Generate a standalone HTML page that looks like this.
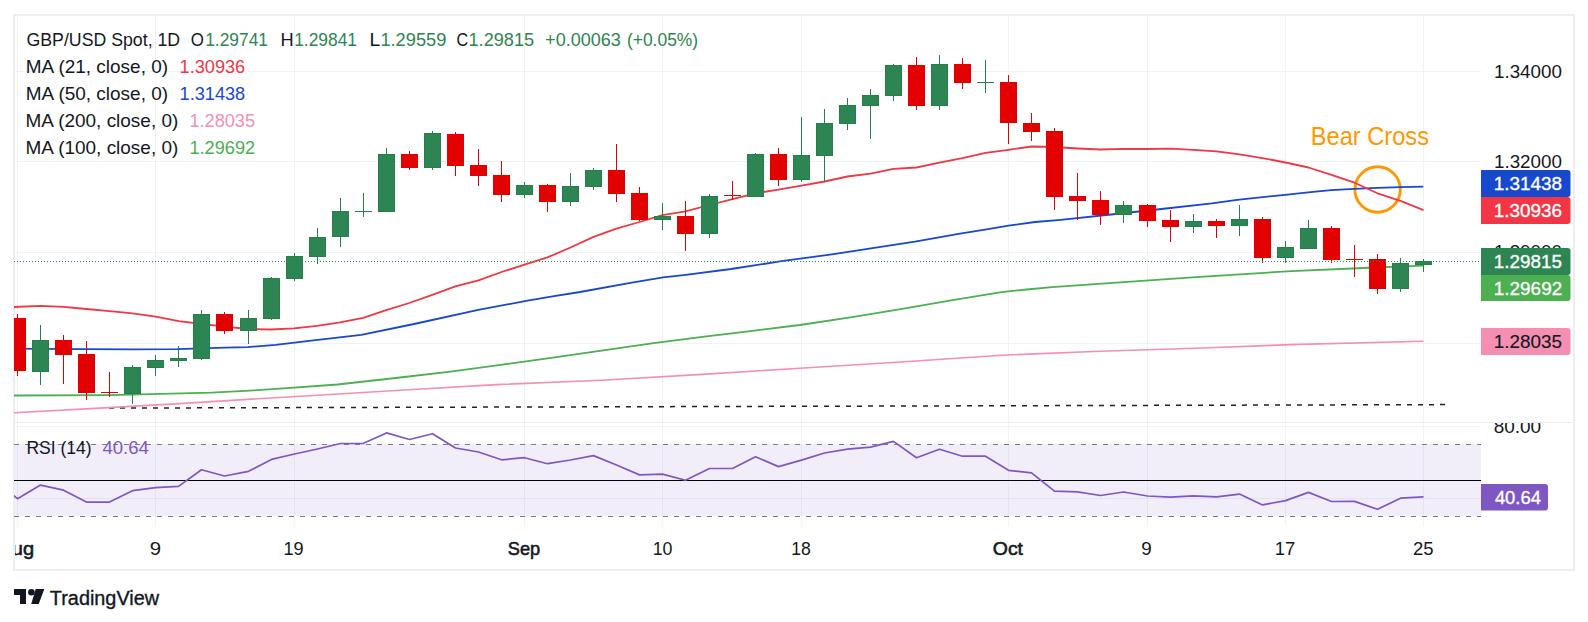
<!DOCTYPE html>
<html><head><meta charset="utf-8"><title>GBP/USD Chart</title>
<style>
html,body{margin:0;padding:0;background:#fff;width:1588px;height:622px;overflow:hidden;}
svg{display:block;font-family:"Liberation Sans", sans-serif;}
</style></head><body>
<svg width="1588" height="622" viewBox="0 0 1588 622">
<defs>
<clipPath id="cm"><rect x="14" y="16" width="1467" height="406"/></clipPath>
<clipPath id="cr"><rect x="14" y="423" width="1467" height="103"/></clipPath>
<clipPath id="cra"><rect x="1481" y="423" width="92" height="103"/></clipPath>
<clipPath id="cta"><rect x="15" y="527" width="1558" height="42"/></clipPath>
</defs>
<rect x="0" y="0" width="1588" height="622" fill="#fff"/>

<rect x="15" y="422" width="1558" height="1" fill="#eceef2"/>
<rect x="14" y="15" width="1560" height="555" fill="none" stroke="#eceef2" stroke-width="2"/>
<g stroke="#f0f2f3" stroke-width="1" shape-rendering="crispEdges">
<line x1="17.5" y1="16" x2="17.5" y2="422"/>
<line x1="17.5" y1="423" x2="17.5" y2="526"/>
<line x1="155.5" y1="16" x2="155.5" y2="422"/>
<line x1="155.5" y1="423" x2="155.5" y2="526"/>
<line x1="294.5" y1="16" x2="294.5" y2="422"/>
<line x1="294.5" y1="423" x2="294.5" y2="526"/>
<line x1="524.5" y1="16" x2="524.5" y2="422"/>
<line x1="524.5" y1="423" x2="524.5" y2="526"/>
<line x1="662.5" y1="16" x2="662.5" y2="422"/>
<line x1="662.5" y1="423" x2="662.5" y2="526"/>
<line x1="801.5" y1="16" x2="801.5" y2="422"/>
<line x1="801.5" y1="423" x2="801.5" y2="526"/>
<line x1="1008.5" y1="16" x2="1008.5" y2="422"/>
<line x1="1008.5" y1="423" x2="1008.5" y2="526"/>
<line x1="1147.5" y1="16" x2="1147.5" y2="422"/>
<line x1="1147.5" y1="423" x2="1147.5" y2="526"/>
<line x1="1285.5" y1="16" x2="1285.5" y2="422"/>
<line x1="1285.5" y1="423" x2="1285.5" y2="526"/>
<line x1="1423.5" y1="16" x2="1423.5" y2="422"/>
<line x1="1423.5" y1="423" x2="1423.5" y2="526"/>
<line x1="15" y1="71.5" x2="1481" y2="71.5"/>
<line x1="15" y1="161.5" x2="1481" y2="161.5"/>
<line x1="15" y1="252.5" x2="1481" y2="252.5"/>
<line x1="15" y1="343.5" x2="1481" y2="343.5"/>
<line x1="15" y1="426.5" x2="1481" y2="426.5"/>
<line x1="15" y1="498.5" x2="1481" y2="498.5"/>
</g>
<g clip-path="url(#cr)">
<rect x="15" y="444" width="1466" height="72" fill="#7e57c2" fill-opacity="0.1"/>
<line x1="14" y1="444.5" x2="1481" y2="444.5" stroke="#787b86" stroke-width="1" stroke-dasharray="5 6" shape-rendering="crispEdges"/>
<line x1="14" y1="516.5" x2="1481" y2="516.5" stroke="#787b86" stroke-width="1" stroke-dasharray="5 6" shape-rendering="crispEdges"/>
<line x1="14" y1="480.5" x2="1481" y2="480.5" stroke="#000" stroke-width="1.2"/>
<polyline points="-5.6,480.3 17.5,498.7 40.5,485.1 63.5,490.2 86.5,502.1 109.5,502.1 132.5,490.7 155.5,487.7 178.5,486.4 201.5,469.8 224.5,476.0 248.5,471.3 271.5,459.4 294.5,454.0 317.5,449.0 340.5,443.5 363.5,443.3 386.5,432.9 409.5,439.5 432.5,433.7 455.5,448.0 478.5,452.0 501.5,459.8 524.5,457.7 547.5,463.7 570.5,460.0 593.5,455.6 616.5,465.0 639.5,474.9 662.5,474.1 685.5,480.2 709.5,468.5 732.5,468.5 755.5,456.7 778.5,466.6 801.5,460.1 824.5,453.0 847.5,449.1 870.5,447.1 893.5,441.4 916.5,457.7 939.5,449.2 962.5,456.2 985.5,456.2 1008.5,470.3 1031.5,472.8 1054.5,491.1 1077.5,491.9 1100.5,495.5 1123.5,492.0 1147.5,496.0 1170.5,497.2 1193.5,495.8 1216.5,496.8 1239.5,494.1 1262.5,504.9 1285.5,500.6 1308.5,492.4 1331.5,501.5 1354.5,501.4 1377.5,509.3 1400.5,498.2 1423.5,496.8" fill="none" stroke="#7e57c2" stroke-width="1.7" stroke-linejoin="round"/>
</g>
<g clip-path="url(#cm)">
<line x1="109" y1="408.1" x2="1445.5" y2="404.6" stroke="#1e222d" stroke-width="1.5" stroke-dasharray="5 6"/>
<circle cx="1377.6" cy="189.5" r="22.7" fill="none" stroke="#ff9800" stroke-width="2.9"/>
<polyline points="14.0,412.8 90.6,408.6 171.2,404.1 251.8,399.1 330.0,394.5 400.0,390.2 500.8,384.4 601.5,380.2 702.3,374.4 800.0,368.3 900.8,362.0 1001.5,355.2 1100.0,351.3 1195.7,348.2 1291.4,344.6 1423.3,341.3" fill="none" stroke="#f48fb1" stroke-width="1.6" stroke-linejoin="round"/>
<polyline points="14.0,395.5 110.8,395.1 171.2,393.7 211.5,392.7 250.0,390.6 287.0,388.1 337.5,384.5 400.0,377.5 450.4,371.6 500.8,364.8 551.1,357.8 601.5,350.7 651.9,343.4 702.3,336.9 752.6,330.8 800.0,325.0 850.4,317.4 900.8,309.1 951.1,300.3 1001.5,292.2 1026.7,289.5 1051.9,287.2 1102.3,283.7 1152.6,280.2 1200.0,276.9 1291.4,271.1 1363.2,268.0 1423.3,265.6" fill="none" stroke="#4caf50" stroke-width="1.8" stroke-linejoin="round"/>
<polyline points="14.0,348.6 40.5,348.9 83.0,349.2 132.7,349.3 177.0,349.2 201.8,348.4 224.9,347.6 247.9,347.1 275.6,344.9 313.4,340.4 361.2,334.8 414.1,324.0 477.1,310.2 527.5,300.6 552.6,296.3 580.0,292.0 630.4,282.9 663.1,277.4 685.8,274.8 731.1,269.0 781.5,261.2 831.9,254.4 882.3,246.6 915.0,241.6 960.0,233.6 985.0,229.6 1008.5,225.6 1035.0,222.0 1060.8,219.8 1111.1,214.5 1161.5,209.0 1211.9,203.4 1237.1,199.8 1287.5,194.6 1308.0,192.3 1331.1,190.2 1354.1,188.8 1377.2,187.9 1400.2,187.2 1423.3,186.7" fill="none" stroke="#1848cc" stroke-width="1.8" stroke-linejoin="round"/>
<polyline points="14.0,307.0 40.5,305.8 63.5,306.8 86.5,309.0 109.6,311.2 132.7,313.3 155.7,316.6 178.8,321.1 201.8,324.0 224.9,326.6 247.9,329.0 271.0,329.5 294.0,328.3 317.1,325.8 340.1,322.4 363.2,317.8 386.2,310.2 409.3,303.0 432.3,294.8 455.4,286.3 478.5,280.4 501.5,272.0 524.5,264.7 547.5,257.4 570.5,247.5 593.5,236.9 616.5,228.6 639.5,222.0 662.5,215.2 685.5,211.4 709.5,205.0 732.5,199.2 755.5,193.3 778.5,189.6 801.5,185.7 824.5,181.5 847.5,176.5 870.5,173.6 893.5,168.8 916.5,167.5 939.5,162.6 962.5,158.2 985.5,152.8 1008.5,149.8 1031.5,146.5 1054.5,147.0 1077.5,148.5 1100.5,149.5 1123.5,148.8 1147.5,149.0 1170.5,148.7 1193.5,149.8 1216.5,151.3 1239.5,154.4 1262.5,158.1 1285.5,162.5 1308.5,167.5 1331.5,174.8 1354.5,182.7 1377.5,193.3 1400.5,200.8 1423.5,210.2" fill="none" stroke="#f23645" stroke-width="1.8" stroke-linejoin="round"/>
<g shape-rendering="crispEdges">
<rect x="17" y="314" width="1" height="62" fill="#e20000"/>
<rect x="9" y="318" width="17" height="53" fill="#e20000"/>
<rect x="40" y="325" width="1" height="60" fill="#228048"/>
<rect x="32" y="340" width="17" height="32" fill="#228048"/>
<rect x="33" y="341" width="15" height="30" fill="#2d8553"/>
<rect x="63" y="335" width="1" height="49" fill="#e20000"/>
<rect x="55" y="340" width="17" height="15" fill="#e20000"/>
<rect x="86" y="341" width="1" height="59" fill="#e20000"/>
<rect x="78" y="354" width="17" height="39" fill="#e20000"/>
<rect x="109" y="372" width="1" height="25" fill="#e20000"/>
<rect x="101" y="392" width="17" height="1" fill="#e20000"/>
<rect x="132" y="365" width="1" height="39" fill="#228048"/>
<rect x="124" y="367" width="17" height="27" fill="#228048"/>
<rect x="125" y="368" width="15" height="25" fill="#2d8553"/>
<rect x="155" y="355" width="1" height="21" fill="#228048"/>
<rect x="147" y="360" width="17" height="8" fill="#228048"/>
<rect x="148" y="361" width="15" height="6" fill="#2d8553"/>
<rect x="178" y="346" width="1" height="21" fill="#228048"/>
<rect x="170" y="358" width="17" height="3" fill="#228048"/>
<rect x="171" y="359" width="15" height="1" fill="#2d8553"/>
<rect x="201" y="310" width="1" height="50" fill="#228048"/>
<rect x="193" y="314" width="17" height="45" fill="#228048"/>
<rect x="194" y="315" width="15" height="43" fill="#2d8553"/>
<rect x="224" y="312" width="1" height="22" fill="#e20000"/>
<rect x="216" y="314" width="17" height="17" fill="#e20000"/>
<rect x="248" y="310" width="1" height="34" fill="#228048"/>
<rect x="240" y="318" width="17" height="13" fill="#228048"/>
<rect x="241" y="319" width="15" height="11" fill="#2d8553"/>
<rect x="271" y="277" width="1" height="43" fill="#228048"/>
<rect x="263" y="278" width="17" height="41" fill="#228048"/>
<rect x="264" y="279" width="15" height="39" fill="#2d8553"/>
<rect x="294" y="253" width="1" height="28" fill="#228048"/>
<rect x="286" y="256" width="17" height="23" fill="#228048"/>
<rect x="287" y="257" width="15" height="21" fill="#2d8553"/>
<rect x="317" y="228" width="1" height="36" fill="#228048"/>
<rect x="309" y="237" width="17" height="20" fill="#228048"/>
<rect x="310" y="238" width="15" height="18" fill="#2d8553"/>
<rect x="340" y="198" width="1" height="49" fill="#228048"/>
<rect x="332" y="211" width="17" height="26" fill="#228048"/>
<rect x="333" y="212" width="15" height="24" fill="#2d8553"/>
<rect x="363" y="193" width="1" height="24" fill="#228048"/>
<rect x="355" y="211" width="17" height="1" fill="#228048"/>
<rect x="386" y="148" width="1" height="64" fill="#228048"/>
<rect x="378" y="154" width="17" height="58" fill="#228048"/>
<rect x="379" y="155" width="15" height="56" fill="#2d8553"/>
<rect x="409" y="151" width="1" height="19" fill="#e20000"/>
<rect x="401" y="154" width="17" height="14" fill="#e20000"/>
<rect x="432" y="131" width="1" height="39" fill="#228048"/>
<rect x="424" y="133" width="17" height="35" fill="#228048"/>
<rect x="425" y="134" width="15" height="33" fill="#2d8553"/>
<rect x="455" y="132" width="1" height="44" fill="#e20000"/>
<rect x="447" y="134" width="17" height="32" fill="#e20000"/>
<rect x="478" y="149" width="1" height="37" fill="#e20000"/>
<rect x="470" y="165" width="17" height="11" fill="#e20000"/>
<rect x="501" y="161" width="1" height="41" fill="#e20000"/>
<rect x="493" y="175" width="17" height="20" fill="#e20000"/>
<rect x="524" y="182" width="1" height="16" fill="#228048"/>
<rect x="516" y="185" width="17" height="10" fill="#228048"/>
<rect x="517" y="186" width="15" height="8" fill="#2d8553"/>
<rect x="547" y="184" width="1" height="28" fill="#e20000"/>
<rect x="539" y="185" width="17" height="17" fill="#e20000"/>
<rect x="570" y="173" width="1" height="33" fill="#228048"/>
<rect x="562" y="186" width="17" height="16" fill="#228048"/>
<rect x="563" y="187" width="15" height="14" fill="#2d8553"/>
<rect x="593" y="168" width="1" height="22" fill="#228048"/>
<rect x="585" y="170" width="17" height="17" fill="#228048"/>
<rect x="586" y="171" width="15" height="15" fill="#2d8553"/>
<rect x="616" y="144" width="1" height="58" fill="#e20000"/>
<rect x="608" y="170" width="17" height="24" fill="#e20000"/>
<rect x="639" y="187" width="1" height="34" fill="#e20000"/>
<rect x="631" y="193" width="17" height="27" fill="#e20000"/>
<rect x="662" y="203" width="1" height="27" fill="#228048"/>
<rect x="654" y="216" width="17" height="4" fill="#228048"/>
<rect x="655" y="217" width="15" height="2" fill="#2d8553"/>
<rect x="685" y="201" width="1" height="50" fill="#e20000"/>
<rect x="677" y="216" width="17" height="18" fill="#e20000"/>
<rect x="709" y="194" width="1" height="44" fill="#228048"/>
<rect x="701" y="196" width="17" height="38" fill="#228048"/>
<rect x="702" y="197" width="15" height="36" fill="#2d8553"/>
<rect x="732" y="181" width="1" height="19" fill="#e20000"/>
<rect x="724" y="195" width="17" height="1" fill="#e20000"/>
<rect x="755" y="153" width="1" height="44" fill="#228048"/>
<rect x="747" y="154" width="17" height="43" fill="#228048"/>
<rect x="748" y="155" width="15" height="41" fill="#2d8553"/>
<rect x="778" y="148" width="1" height="38" fill="#e20000"/>
<rect x="770" y="154" width="17" height="26" fill="#e20000"/>
<rect x="801" y="117" width="1" height="65" fill="#228048"/>
<rect x="793" y="155" width="17" height="25" fill="#228048"/>
<rect x="794" y="156" width="15" height="23" fill="#2d8553"/>
<rect x="824" y="109" width="1" height="73" fill="#228048"/>
<rect x="816" y="123" width="17" height="33" fill="#228048"/>
<rect x="817" y="124" width="15" height="31" fill="#2d8553"/>
<rect x="847" y="98" width="1" height="32" fill="#228048"/>
<rect x="839" y="105" width="17" height="19" fill="#228048"/>
<rect x="840" y="106" width="15" height="17" fill="#2d8553"/>
<rect x="870" y="89" width="1" height="50" fill="#228048"/>
<rect x="862" y="95" width="17" height="11" fill="#228048"/>
<rect x="863" y="96" width="15" height="9" fill="#2d8553"/>
<rect x="893" y="64" width="1" height="37" fill="#228048"/>
<rect x="885" y="65" width="17" height="31" fill="#228048"/>
<rect x="886" y="66" width="15" height="29" fill="#2d8553"/>
<rect x="916" y="57" width="1" height="53" fill="#e20000"/>
<rect x="908" y="65" width="17" height="41" fill="#e20000"/>
<rect x="939" y="55" width="1" height="55" fill="#228048"/>
<rect x="931" y="64" width="17" height="42" fill="#228048"/>
<rect x="932" y="65" width="15" height="40" fill="#2d8553"/>
<rect x="962" y="58" width="1" height="31" fill="#e20000"/>
<rect x="954" y="64" width="17" height="19" fill="#e20000"/>
<rect x="985" y="60" width="1" height="33" fill="#228048"/>
<rect x="977" y="82" width="17" height="1" fill="#228048"/>
<rect x="1008" y="75" width="1" height="69" fill="#e20000"/>
<rect x="1000" y="82" width="17" height="41" fill="#e20000"/>
<rect x="1031" y="113" width="1" height="28" fill="#e20000"/>
<rect x="1023" y="123" width="17" height="9" fill="#e20000"/>
<rect x="1054" y="128" width="1" height="82" fill="#e20000"/>
<rect x="1046" y="131" width="17" height="66" fill="#e20000"/>
<rect x="1077" y="173" width="1" height="47" fill="#e20000"/>
<rect x="1069" y="196" width="17" height="5" fill="#e20000"/>
<rect x="1100" y="191" width="1" height="34" fill="#e20000"/>
<rect x="1092" y="200" width="17" height="15" fill="#e20000"/>
<rect x="1123" y="201" width="1" height="22" fill="#228048"/>
<rect x="1115" y="205" width="17" height="10" fill="#228048"/>
<rect x="1116" y="206" width="15" height="8" fill="#2d8553"/>
<rect x="1147" y="204" width="1" height="23" fill="#e20000"/>
<rect x="1139" y="205" width="17" height="16" fill="#e20000"/>
<rect x="1170" y="210" width="1" height="32" fill="#e20000"/>
<rect x="1162" y="220" width="17" height="7" fill="#e20000"/>
<rect x="1193" y="214" width="1" height="19" fill="#228048"/>
<rect x="1185" y="221" width="17" height="6" fill="#228048"/>
<rect x="1186" y="222" width="15" height="4" fill="#2d8553"/>
<rect x="1216" y="219" width="1" height="19" fill="#e20000"/>
<rect x="1208" y="221" width="17" height="5" fill="#e20000"/>
<rect x="1239" y="205" width="1" height="31" fill="#228048"/>
<rect x="1231" y="219" width="17" height="7" fill="#228048"/>
<rect x="1232" y="220" width="15" height="5" fill="#2d8553"/>
<rect x="1262" y="217" width="1" height="46" fill="#e20000"/>
<rect x="1254" y="219" width="17" height="39" fill="#e20000"/>
<rect x="1285" y="241" width="1" height="22" fill="#228048"/>
<rect x="1277" y="247" width="17" height="11" fill="#228048"/>
<rect x="1278" y="248" width="15" height="9" fill="#2d8553"/>
<rect x="1308" y="220" width="1" height="29" fill="#228048"/>
<rect x="1300" y="228" width="17" height="21" fill="#228048"/>
<rect x="1301" y="229" width="15" height="19" fill="#2d8553"/>
<rect x="1331" y="226" width="1" height="37" fill="#e20000"/>
<rect x="1323" y="228" width="17" height="32" fill="#e20000"/>
<rect x="1354" y="245" width="1" height="32" fill="#e20000"/>
<rect x="1346" y="259" width="17" height="1" fill="#e20000"/>
<rect x="1377" y="254" width="1" height="40" fill="#e20000"/>
<rect x="1369" y="259" width="17" height="30" fill="#e20000"/>
<rect x="1400" y="258" width="1" height="34" fill="#228048"/>
<rect x="1392" y="263" width="17" height="26" fill="#228048"/>
<rect x="1393" y="264" width="15" height="24" fill="#2d8553"/>
<rect x="1423" y="259" width="1" height="13" fill="#228048"/>
<rect x="1415" y="261" width="17" height="4" fill="#228048"/>
<rect x="1416" y="262" width="15" height="2" fill="#2d8553"/>
</g>
<line x1="14" y1="261.5" x2="1480" y2="261.5" stroke="#2d8553" stroke-width="1" stroke-dasharray="1 2" shape-rendering="crispEdges"/>
<text x="1310.86" y="145.3" font-size="26" fill="#ff9800" textLength="118.09" lengthAdjust="spacingAndGlyphs" >Bear Cross</text>
</g>
<text x="26.51" y="45.9" font-size="19" fill="#131722" textLength="153.64" lengthAdjust="spacingAndGlyphs" >GBP/USD Spot, 1D</text>
<text x="190.80" y="45.9" font-size="19" fill="#131722" textLength="13.10" lengthAdjust="spacingAndGlyphs" >O</text>
<text x="205.18" y="45.9" font-size="19" fill="#2d8553" textLength="62.87" lengthAdjust="spacingAndGlyphs" >1.29741</text>
<text x="280.40" y="45.9" font-size="19" fill="#131722" textLength="13.19" lengthAdjust="spacingAndGlyphs" >H</text>
<text x="294.18" y="45.9" font-size="19" fill="#2d8553" textLength="62.87" lengthAdjust="spacingAndGlyphs" >1.29841</text>
<text x="369.62" y="45.9" font-size="19" fill="#131722" textLength="10.72" lengthAdjust="spacingAndGlyphs" >L</text>
<text x="380.41" y="45.9" font-size="19" fill="#2d8553" textLength="65.95" lengthAdjust="spacingAndGlyphs" >1.29559</text>
<text x="456.58" y="45.9" font-size="19" fill="#131722" textLength="11.63" lengthAdjust="spacingAndGlyphs" >C</text>
<text x="468.52" y="45.9" font-size="19" fill="#2d8553" textLength="65.54" lengthAdjust="spacingAndGlyphs" >1.29815</text>
<text x="545.12" y="45.9" font-size="19" fill="#2d8553" textLength="75.67" lengthAdjust="spacingAndGlyphs" >+0.00063</text>
<text x="626.92" y="45.9" font-size="19" fill="#2d8553" textLength="71.26" lengthAdjust="spacingAndGlyphs" >(+0.05%)</text>
<text x="25.76" y="72.8" font-size="19" fill="#131722" textLength="142.31" lengthAdjust="spacingAndGlyphs" >MA (21, close, 0)</text>
<text x="179.62" y="72.8" font-size="19" fill="#f23645" textLength="65.58" lengthAdjust="spacingAndGlyphs" >1.30936</text>
<text x="25.76" y="99.6" font-size="19" fill="#131722" textLength="142.31" lengthAdjust="spacingAndGlyphs" >MA (50, close, 0)</text>
<text x="179.62" y="99.6" font-size="19" fill="#1848cc" textLength="65.57" lengthAdjust="spacingAndGlyphs" >1.31438</text>
<text x="25.56" y="126.7" font-size="19" fill="#131722" textLength="152.71" lengthAdjust="spacingAndGlyphs" >MA (200, close, 0)</text>
<text x="189.42" y="126.7" font-size="19" fill="#f48fb1" textLength="65.65" lengthAdjust="spacingAndGlyphs" >1.28035</text>
<text x="25.56" y="153.6" font-size="19" fill="#131722" textLength="152.71" lengthAdjust="spacingAndGlyphs" >MA (100, close, 0)</text>
<text x="189.41" y="153.6" font-size="19" fill="#4caf50" textLength="65.80" lengthAdjust="spacingAndGlyphs" >1.29692</text>
<text x="26.47" y="453.7" font-size="19" fill="#131722" textLength="65.12" lengthAdjust="spacingAndGlyphs" >RSI (14)</text>
<text x="102.47" y="453.7" font-size="19" fill="#7e57c2" textLength="46.37" lengthAdjust="spacingAndGlyphs" >40.64</text>
<text x="1493.97" y="77.6" font-size="19" fill="#131722" textLength="67.97" lengthAdjust="spacingAndGlyphs" >1.34000</text>
<text x="1493.97" y="167.9" font-size="19" fill="#131722" textLength="67.97" lengthAdjust="spacingAndGlyphs" >1.32000</text>
<text x="1493.97" y="257.6" font-size="19" fill="#131722" textLength="67.97" lengthAdjust="spacingAndGlyphs" >1.30000</text>
<path d="M1481 170 H1567.5 Q1570.5 170 1570.5 173 V194 Q1570.5 197 1567.5 197 H1481 Z" fill="#1848cc"/>
<text x="1493.86" y="190.1" font-size="19" fill="#fff" textLength="68.16" lengthAdjust="spacingAndGlyphs" stroke="#fff" stroke-width="0.35">1.31438</text>
<path d="M1481 197 H1567.5 Q1570.5 197 1570.5 200 V221 Q1570.5 224 1567.5 224 H1481 Z" fill="#f23645"/>
<text x="1493.86" y="217.1" font-size="19" fill="#fff" textLength="68.17" lengthAdjust="spacingAndGlyphs" stroke="#fff" stroke-width="0.35">1.30936</text>
<path d="M1481 248 H1567.5 Q1570.5 248 1570.5 251 V272 Q1570.5 275 1567.5 275 H1481 Z" fill="#2d8553"/>
<text x="1493.86" y="268.1" font-size="19" fill="#fff" textLength="68.13" lengthAdjust="spacingAndGlyphs" stroke="#fff" stroke-width="0.35">1.29815</text>
<path d="M1481 275 H1567.5 Q1570.5 275 1570.5 278 V298 Q1570.5 301 1567.5 301 H1481 Z" fill="#4caf50"/>
<text x="1493.86" y="294.6" font-size="19" fill="#fff" textLength="68.29" lengthAdjust="spacingAndGlyphs" stroke="#fff" stroke-width="0.35">1.29692</text>
<path d="M1481 328 H1567.5 Q1570.5 328 1570.5 331 V352 Q1570.5 355 1567.5 355 H1481 Z" fill="#f48fb1"/>
<text x="1493.86" y="348.1" font-size="19" fill="#131722" textLength="68.13" lengthAdjust="spacingAndGlyphs" stroke="#131722" stroke-width="0.15">1.28035</text>
<g clip-path="url(#cra)">
<text x="1493.68" y="433.0" font-size="19" fill="#131722" textLength="47.47" lengthAdjust="spacingAndGlyphs" >80.00</text>
</g>
<path d="M1481 484 H1545 Q1548 484 1548 487 V507.5 Q1548 510.5 1545 510.5 H1481 Z" fill="#7e57c2"/>
<text x="1494.88" y="503.9" font-size="19" fill="#fff" textLength="46.06" lengthAdjust="spacingAndGlyphs" stroke="#fff" stroke-width="0.35">40.64</text>
<g clip-path="url(#cta)">
<text x="-1.64" y="554.5" font-size="19" fill="#131722" textLength="35.73" lengthAdjust="spacingAndGlyphs" stroke="#131722" stroke-width="0.55" >Aug</text>
<text x="149.85" y="554.5" font-size="19" fill="#131722" textLength="11.32" lengthAdjust="spacingAndGlyphs" >9</text>
<text x="283.52" y="554.5" font-size="19" fill="#131722" textLength="20.14" lengthAdjust="spacingAndGlyphs" >19</text>
<text x="507.87" y="554.5" font-size="19" fill="#131722" textLength="32.39" lengthAdjust="spacingAndGlyphs" stroke="#131722" stroke-width="0.55" >Sep</text>
<text x="652.75" y="554.5" font-size="19" fill="#131722" textLength="19.75" lengthAdjust="spacingAndGlyphs" >10</text>
<text x="791.16" y="554.5" font-size="19" fill="#131722" textLength="19.61" lengthAdjust="spacingAndGlyphs" >18</text>
<text x="992.78" y="554.5" font-size="19" fill="#131722" textLength="30.26" lengthAdjust="spacingAndGlyphs" stroke="#131722" stroke-width="0.55" >Oct</text>
<text x="1141.32" y="554.5" font-size="19" fill="#131722" textLength="10.47" lengthAdjust="spacingAndGlyphs" >9</text>
<text x="1274.79" y="554.5" font-size="19" fill="#131722" textLength="20.53" lengthAdjust="spacingAndGlyphs" >17</text>
<text x="1412.97" y="554.5" font-size="19" fill="#131722" textLength="20.61" lengthAdjust="spacingAndGlyphs" >25</text>
</g>
<g fill="#131722">
<path d="M14 589 H26 V604 H20 V595 H14 Z"/>
<circle cx="31.4" cy="592.3" r="3.3"/>
<path d="M35.7 589 H44.3 L38.7 604 H31.2 Z"/>
</g>
<text x="49.86" y="604.7" font-size="20" fill="#131722" textLength="109.19" lengthAdjust="spacingAndGlyphs" stroke="#131722" stroke-width="0.35">TradingView</text>
</svg>
</body></html>
